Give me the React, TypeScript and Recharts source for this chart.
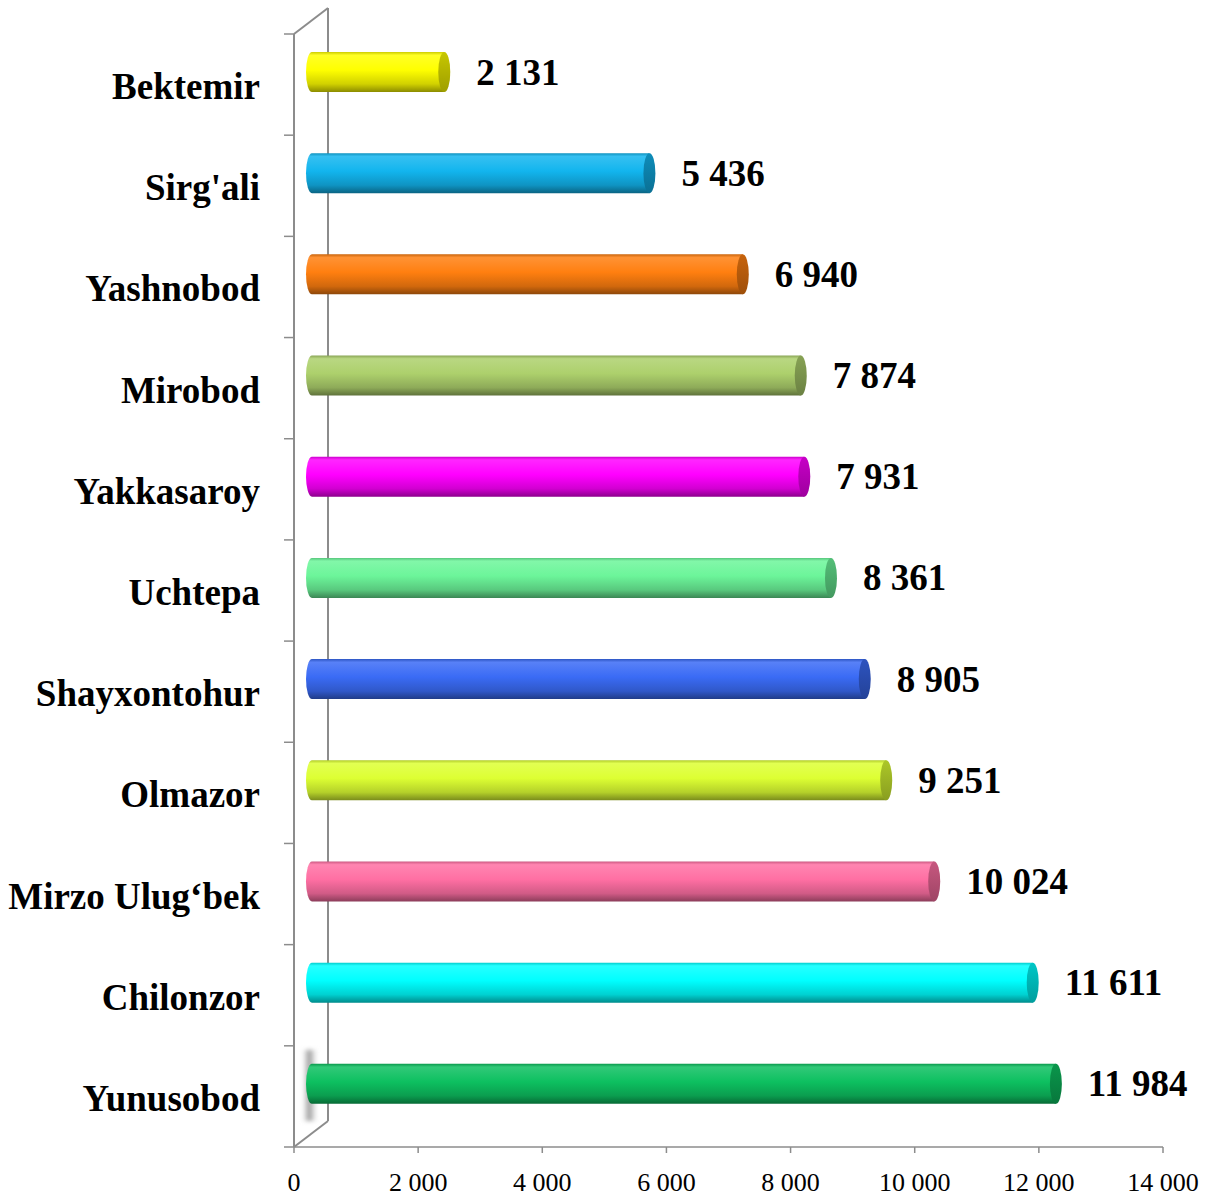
import React from 'react';
import { BarChart, Bar, XAxis, YAxis, Cell, LabelList } from 'recharts';

const DISTRICTS = [
  'Bektemir',
  "Sirg'ali",
  'Yashnobod',
  'Mirobod',
  'Yakkasaroy',
  'Uchtepa',
  'Shayxontohur',
  'Olmazor',
  'Mirzo Ulug‘bek',
  'Chilonzor',
  'Yunusobod',
];

const VALUES = [2131, 5436, 6940, 7874, 7931, 8361, 8905, 9251, 10024, 11611, 11984];

const X_TICKS = [0, 2000, 4000, 6000, 8000, 10000, 12000, 14000];

const COLORS = [
  '#FFFF00',
  '#12B5EE',
  '#FF7F10',
  '#ADD06C',
  '#FF00FF',
  '#6CF59A',
  '#3A6BF5',
  '#DDFF33',
  '#FF6FA3',
  '#00FFFF',
  '#0DC060',
];

const data = DISTRICTS.map((name, i) => ({ name, value: VALUES[i] }));

// layout
const W = 1211;
const H = 1196;
const LEFT = 294;
const TOP = 34;
const RIGHT = 1163;
const BOTTOM = 1147;
const BAND = (BOTTOM - TOP) / DISTRICTS.length;
const DX = 18; // 3d depth offset of the bars
const DY = -13;
const WALL_DX = 34;
const WALL_DY = -26;
const FONT = '"Liberation Serif", "Times New Roman", serif';
const AXIS_COLOR = '#8c8c8c';

const shade = (hex: string, f: number) => {
  const n = parseInt(hex.slice(1), 16);
  const r = Math.round(((n >> 16) & 255) * f);
  const g = Math.round(((n >> 8) & 255) * f);
  const b = Math.round((n & 255) * f);
  return `rgb(${r},${g},${b})`;
};

const tint = (hex: string, f: number) => {
  const n = parseInt(hex.slice(1), 16);
  const mix = (c: number) => Math.round(c + (255 - c) * f);
  return `rgb(${mix((n >> 16) & 255)},${mix((n >> 8) & 255)},${mix(n & 255)})`;
};

const fmt = (v: number) => String(v).replace(/\B(?=(\d{3})+(?!\d))/g, ' ');

const Cylinder = (props: any) => {
  const { x, y, width, height, fill, index } = props;
  const color = fill || COLORS[index];
  const x0 = x + DX;
  const x1 = x + width + DX;
  const y0 = y + DY;
  const ry = height / 2;
  const rx = 6;
  const id = `cyl-${index}`;
  const capId = `cap-${index}`;
  return (
    <g>
      <defs>
        <linearGradient id={id} x1="0" y1="0" x2="0" y2="1">
          <stop offset="0" stopColor={shade(color, 0.8)} />
          <stop offset="0.08" stopColor={tint(color, 0.15)} />
          <stop offset="0.45" stopColor={color} />
          <stop offset="0.8" stopColor={shade(color, 0.82)} />
          <stop offset="1" stopColor={shade(color, 0.55)} />
        </linearGradient>
        <linearGradient id={capId} x1="0" y1="0" x2="0" y2="1">
          <stop offset="0" stopColor={shade(color, 0.78)} />
          <stop offset="1" stopColor={shade(color, 0.62)} />
        </linearGradient>
      </defs>
      <path
        d={`M ${x0} ${y0} L ${x1} ${y0} L ${x1} ${y0 + height} L ${x0} ${y0 + height} A ${rx} ${ry} 0 0 1 ${x0} ${y0} Z`}
        fill={`url(#${id})`}
      />
      <ellipse cx={x1} cy={y0 + ry} rx={rx} ry={ry} fill={`url(#${capId})`} />
    </g>
  );
};

const ValueLabel = (props: any) => {
  const { x, y, width, height, value } = props;
  return (
    <text
      x={x + width + DX + 32}
      y={y + height / 2 + DY}
      dominantBaseline="central"
      fontFamily={FONT}
      fontWeight="bold"
      fontSize={37}
      fill="#000"
    >
      {fmt(value)}
    </text>
  );
};

const CategoryTick = (props: any) => {
  const { y, payload, index } = props;
  const last = index === DISTRICTS.length - 1;
  return (
    <g>
      <line x1={LEFT - 10} x2={LEFT} y1={y - BAND / 2} y2={y - BAND / 2} stroke={AXIS_COLOR} strokeWidth={1.5} />
      {last && (
        <line x1={LEFT - 10} x2={LEFT} y1={y + BAND / 2} y2={y + BAND / 2} stroke={AXIS_COLOR} strokeWidth={1.5} />
      )}
      <text
        x={LEFT - 34}
        y={y + 2}
        textAnchor="end"
        dominantBaseline="central"
        fontFamily={FONT}
        fontWeight="bold"
        fontSize={37}
        fill="#000"
      >
        {payload.value}
      </text>
    </g>
  );
};

const ValueTick = (props: any) => {
  const { x, payload } = props;
  return (
    <text x={x} y={BOTTOM + 44} textAnchor="middle" fontFamily={FONT} fontSize={26} fill="#000">
      {fmt(payload.value)}
    </text>
  );
};

const Walls = () => (
  <svg width={W} height={H} style={{ position: 'absolute', left: 0, top: 0 }}>
    <defs>
      <linearGradient id="wall-shadow" x1="0" y1="0" x2="1" y2="0">
        <stop offset="0" stopColor="#d8d8d8" stopOpacity="0.3" />
        <stop offset="0.45" stopColor="#8a8a8a" stopOpacity="0.9" />
        <stop offset="1" stopColor="#e0e0e0" stopOpacity="0.2" />
      </linearGradient>
      <filter id="soft" x="-50%" y="-20%" width="200%" height="140%">
        <feGaussianBlur stdDeviation="2" />
      </filter>
    </defs>
    <rect
      x={303}
      y={BOTTOM - BAND + 4}
      width={14}
      height={BAND - 30}
      fill="url(#wall-shadow)"
      filter="url(#soft)"
    />
    <line x1={LEFT} y1={TOP} x2={LEFT + WALL_DX} y2={TOP + WALL_DY} stroke={AXIS_COLOR} strokeWidth={2} />
    <line x1={LEFT + WALL_DX} y1={TOP + WALL_DY} x2={LEFT + WALL_DX} y2={BOTTOM + WALL_DY} stroke={AXIS_COLOR} strokeWidth={2} />
    <line x1={LEFT} y1={BOTTOM} x2={LEFT + WALL_DX} y2={BOTTOM + WALL_DY} stroke={AXIS_COLOR} strokeWidth={2} />
  </svg>
);

export default function App() {
  return (
    <div style={{ position: 'absolute', left: 0, top: 0, width: W, height: H, background: '#fff' }}>
      <Walls />
      <div style={{ position: 'absolute', left: 0, top: 0 }}>
        <BarChart
          width={W}
          height={H}
          data={data}
          layout="vertical"
          margin={{ top: TOP, right: W - RIGHT, bottom: 0, left: 0 }}
          barSize={40}
        >
          <XAxis
            type="number"
            domain={[0, 14000]}
            ticks={X_TICKS}
            interval={0}
            height={H - BOTTOM}
            tick={<ValueTick />}
            tickSize={6}
            axisLine={{ stroke: AXIS_COLOR, strokeWidth: 1.5 }}
            tickLine={{ stroke: AXIS_COLOR, strokeWidth: 1.5 }}
          />
          <YAxis
            type="category"
            dataKey="name"
            width={LEFT}
            interval={0}
            tick={<CategoryTick />}
            tickLine={false}
            tickSize={0}
            axisLine={{ stroke: AXIS_COLOR, strokeWidth: 2 }}
          />
          <Bar dataKey="value" shape={<Cylinder />} isAnimationActive={false}>
            {data.map((d, i) => (
              <Cell key={d.name} fill={COLORS[i]} />
            ))}
            <LabelList dataKey="value" content={<ValueLabel />} />
          </Bar>
        </BarChart>
      </div>
    </div>
  );
}
